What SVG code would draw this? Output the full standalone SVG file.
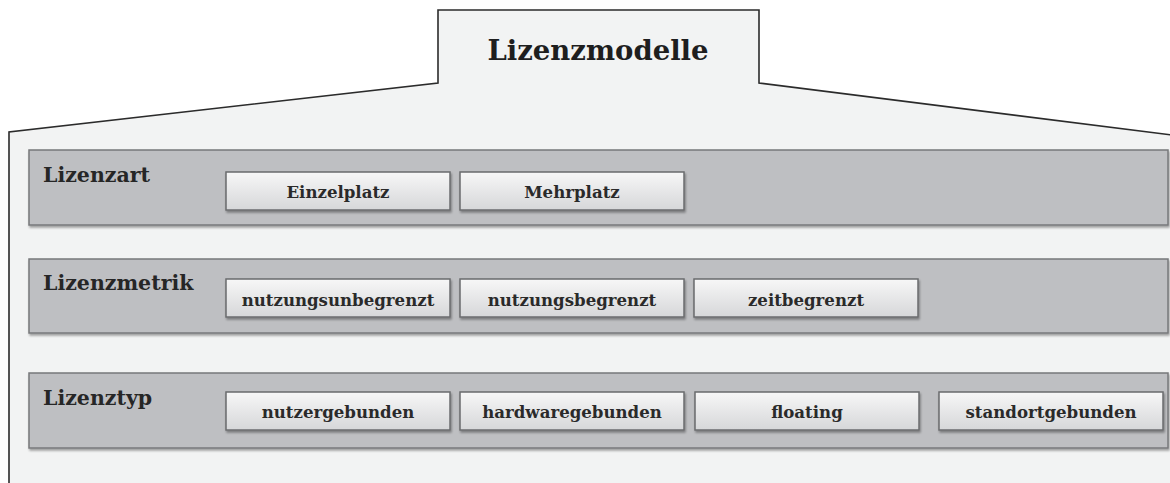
<svg xmlns="http://www.w3.org/2000/svg" width="1170" height="483" viewBox="0 0 1170 483">
  <defs>
    <linearGradient id="btnGrad" x1="0" y1="0" x2="0" y2="1">
      <stop offset="0" stop-color="#f7f7f7"/>
      <stop offset="1" stop-color="#d6d7d9"/>
    </linearGradient>
    <filter id="shadow" x="-5%" y="-20%" width="110%" height="150%">
      <feDropShadow dx="1" dy="2" stdDeviation="1.2" flood-color="#000" flood-opacity="0.35"/>
    </filter>
  </defs>
  <style>
    .outer { fill: #f2f3f3; stroke: #2b2b2b; stroke-width: 1.6; }
    .band { fill: #bebfc2; stroke: #77787b; stroke-width: 1.5; filter: url(#shadow); }
    .btn { fill: url(#btnGrad); stroke: #6a6b6e; stroke-width: 1.5; filter: url(#shadow); }
    .title { font-family: "DejaVu Serif", "Liberation Serif", serif; font-weight: bold; font-size: 27.5px; fill: #1e1e1e; }
    .bandLabel { font-family: "DejaVu Serif", "Liberation Serif", serif; font-weight: bold; font-size: 20.5px; fill: #262626; }
    .btnLabel { font-family: "DejaVu Serif", "Liberation Serif", serif; font-weight: bold; font-size: 16.6px; fill: #2a2a2a; text-anchor: middle; }
  </style>

  <!-- outer container with title tab -->
  <g id="container">
    <path class="outer" d="M9,483 L9,132 L438,83 L438,10 L759,10 L759,83 L1172,135 L1172,483"/>
    <text class="title" x="598" y="60" text-anchor="middle">Lizenzmodelle</text>
  </g>

  <!-- Lizenzart -->
  <g id="lizenzart">
    <rect class="band" x="29" y="150" width="1139" height="75"/>
    <text class="bandLabel" x="43" y="182">Lizenzart</text>
  </g>
  <g id="einzelplatz">
    <rect class="btn" x="226" y="172" width="224" height="38"/>
    <text class="btnLabel" x="338" y="198">Einzelplatz</text>
  </g>
  <g id="mehrplatz">
    <rect class="btn" x="460" y="172" width="224" height="38"/>
    <text class="btnLabel" x="572" y="198">Mehrplatz</text>
  </g>

  <!-- Lizenzmetrik -->
  <g id="lizenzmetrik">
    <rect class="band" x="29" y="259" width="1139" height="74"/>
    <text class="bandLabel" x="43" y="290">Lizenzmetrik</text>
  </g>
  <g id="nutzungsunbegrenzt">
    <rect class="btn" x="226" y="279" width="224" height="38"/>
    <text class="btnLabel" x="338" y="306">nutzungsunbegrenzt</text>
  </g>
  <g id="nutzungsbegrenzt">
    <rect class="btn" x="460" y="279" width="224" height="38"/>
    <text class="btnLabel" x="572" y="306">nutzungsbegrenzt</text>
  </g>
  <g id="zeitbegrenzt">
    <rect class="btn" x="694" y="279" width="224" height="38"/>
    <text class="btnLabel" x="806" y="306">zeitbegrenzt</text>
  </g>

  <!-- Lizenztyp -->
  <g id="lizenztyp">
    <rect class="band" x="29" y="373" width="1139" height="75"/>
    <text class="bandLabel" x="43" y="405">Lizenztyp</text>
  </g>
  <g id="nutzergebunden">
    <rect class="btn" x="226" y="392" width="224" height="38"/>
    <text class="btnLabel" x="338" y="418">nutzergebunden</text>
  </g>
  <g id="hardwaregebunden">
    <rect class="btn" x="460" y="392" width="224" height="38"/>
    <text class="btnLabel" x="572" y="418">hardwaregebunden</text>
  </g>
  <g id="floating">
    <rect class="btn" x="695" y="392" width="224" height="38"/>
    <text class="btnLabel" x="807" y="418">floating</text>
  </g>
  <g id="standortgebunden">
    <rect class="btn" x="939" y="392" width="224" height="38"/>
    <text class="btnLabel" x="1051" y="418">standortgebunden</text>
  </g>

  <g id="connectors"/>
</svg>
